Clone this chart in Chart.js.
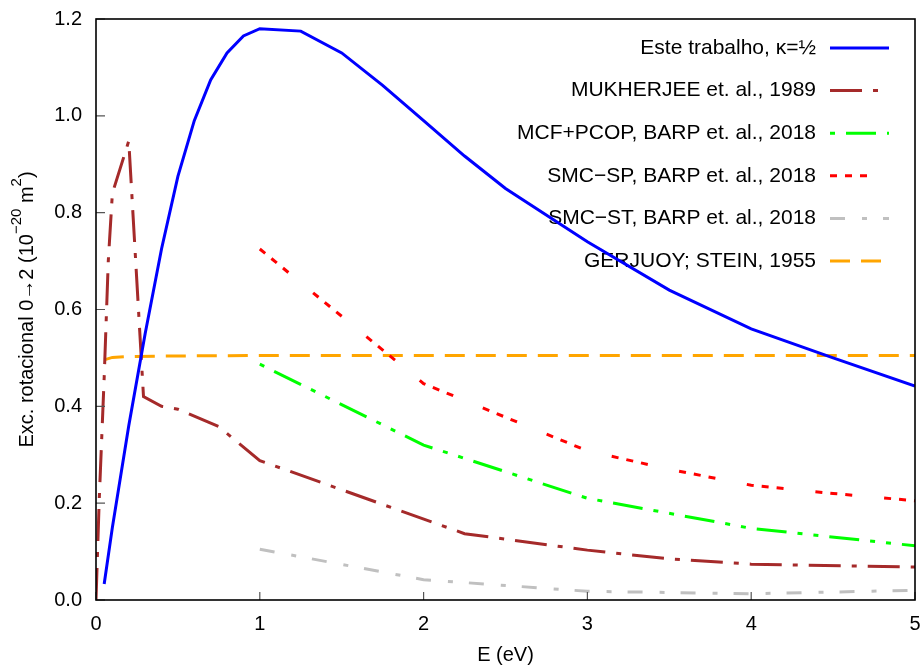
<!DOCTYPE html>
<html>
<head>
<meta charset="utf-8">
<script src="https://cdn.jsdelivr.net/npm/chart.js@4.4.1/dist/chart.umd.min.js"></script>
<style>
  html, body { margin: 0; padding: 0; background: #fff; }
  #wrap { width: 922px; height: 667px; }
</style>
</head>
<body>
<div id="wrap"><canvas id="cs"></canvas></div>
<script>
// series (E in eV, cross section in 1e-20 m^2)
const labels = ['Este trabalho, κ=½', 'MUKHERJEE et. al., 1989', 'MCF+PCOP, BARP et. al., 2018',
                'SMC\u2212SP, BARP et. al., 2018', 'SMC\u2212ST, BARP et. al., 2018', 'GERJUOY; STEIN, 1955'];

const eTrab = [0.05, 0.1, 0.2, 0.3, 0.4, 0.5, 0.6, 0.7, 0.8, 0.9, 1.0, 1.25, 1.5, 1.75, 2.0, 2.25, 2.5, 3.0, 3.5, 4.0, 4.5, 5.0];
const sTrab = [0.033, 0.15, 0.36, 0.55, 0.725, 0.875, 0.99, 1.074, 1.13, 1.165, 1.18, 1.175, 1.13, 1.063, 0.99, 0.917, 0.85, 0.74, 0.64, 0.56, 0.5, 0.442];

const eMuk = [0.0, 0.02, 0.05, 0.075, 0.1, 0.2, 0.29, 0.4, 0.5, 0.75, 1.0, 2.25, 3.0, 3.5, 4.0, 5.0];
const sMuk = [0.0, 0.21, 0.46, 0.7, 0.84, 0.948, 0.42, 0.40, 0.394, 0.358, 0.288, 0.137, 0.103, 0.085, 0.074, 0.068];

const eMcf = [1.0, 2.0, 3.0, 4.0, 5.0];
const sMcf = [0.487, 0.32, 0.21, 0.148, 0.112];

const eSp = [1.0, 2.0, 3.0, 3.5, 4.0, 4.5, 5.0];
const sSp = [0.725, 0.447, 0.308, 0.27, 0.237, 0.22, 0.205];

const eSt = [1.0, 2.0, 3.0, 4.0, 5.0];
const sSt = [0.105, 0.042, 0.018, 0.013, 0.02];

const eGer = [0.05, 0.1, 0.2, 0.5, 1.0, 2.0, 3.0, 4.0, 5.0];
const sGer = [0.496, 0.501, 0.503, 0.504, 0.505, 0.505, 0.505, 0.505, 0.505];

const xTicks = [0, 1, 2, 3, 4, 5];
const yTicks = [0.0, 0.2, 0.4, 0.6, 0.8, 1.0, 1.2];

// y title pieces: [text, superscript?]
const yTitle = [['Exc. rotacional 0\u21922 (10', false], ['\u221220', true], [' m', false], ['2', true], [')', false]];

function pts(xs, ys) { return xs.map((x, i) => ({x: x, y: ys[i]})); }

function ds(i, xs, ys, color, dash) {
  return {
    label: labels[i], data: pts(xs, ys), borderColor: color, backgroundColor: color,
    borderWidth: 3, borderDash: dash, pointRadius: 0, tension: 0, fill: false
  };
}

const FONT = '"Liberation Sans", Arial, sans-serif';

// gnuplot-like key: right aligned text, sample line on the right
const keyPlugin = {
  id: 'key',
  beforeDatasetsDraw(chart) {
    const ctx = chart.ctx;
    ctx.save();
    ctx.font = '21px ' + FONT;
    ctx.textAlign = 'right';
    ctx.textBaseline = 'middle';
    chart.data.datasets.forEach((d, i) => {
      const y = 48 + i * 42.6;
      ctx.fillStyle = '#000';
      ctx.fillText(d.label, 816, y);
      ctx.strokeStyle = d.borderColor;
      ctx.lineWidth = d.borderWidth;
      ctx.setLineDash(d.borderDash || []);
      ctx.beginPath();
      ctx.moveTo(830, y);
      ctx.lineTo(889, y);
      ctx.stroke();
    });
    ctx.restore();
  }
};

// rotated y title with real superscripts
const yTitlePlugin = {
  id: 'ytitle',
  afterDraw(chart) {
    const ctx = chart.ctx;
    const a = chart.chartArea;
    ctx.save();
    const big = '20px ' + FONT, small = '15px ' + FONT;
    let total = 0;
    yTitle.forEach(p => { ctx.font = p[1] ? small : big; total += ctx.measureText(p[0]).width; });
    ctx.translate(33, (a.top + a.bottom) / 2);
    ctx.rotate(-Math.PI / 2);
    ctx.fillStyle = '#000';
    ctx.textBaseline = 'alphabetic';
    ctx.textAlign = 'left';
    let x = -total / 2;
    yTitle.forEach(p => {
      ctx.font = p[1] ? small : big;
      ctx.fillText(p[0], x, p[1] ? -12 : 0);
      x += ctx.measureText(p[0]).width;
    });
    ctx.restore();
  }
};

// frame and inward ticks
const framePlugin = {
  id: 'frame',
  afterDatasetsDraw(chart) {
    const {ctx, chartArea: a, scales} = chart;
    ctx.save();
    ctx.setLineDash([]);
    ctx.strokeStyle = '#555';
    ctx.lineWidth = 1.2;
    ctx.beginPath();
    scales.y.ticks.forEach(t => {
      const py = scales.y.getPixelForValue(t.value);
      ctx.moveTo(a.left, py); ctx.lineTo(a.left + 9, py);
    });
    scales.x.ticks.forEach(t => {
      const px = scales.x.getPixelForValue(t.value);
      ctx.moveTo(px, a.bottom); ctx.lineTo(px, a.bottom - 8);
    });
    ctx.stroke();
    ctx.strokeStyle = '#000';
    ctx.lineWidth = 1.6;
    ctx.strokeRect(a.left, a.top, a.right - a.left, a.bottom - a.top);
    ctx.restore();
  }
};

new Chart(document.getElementById('cs'), {
  type: 'line',
  data: {
    datasets: [
      ds(0, eTrab, sTrab, '#0000ff', []),
      ds(1, eMuk, sMuk, '#a52a2a', [32, 11, 5, 11]),
      ds(2, eMcf, sMcf, '#00ff00', [5, 11, 30, 11, 5, 11]),
      ds(3, eSp, sSp, '#ff0000', [7, 8, 7, 8, 7, 32]),
      ds(4, eSt, sSt, '#c0c0c0', [15, 17, 5, 16]),
      ds(5, eGer, sGer, '#ffa500', [20, 11])
    ]
  },
  options: {
    responsive: true,
    maintainAspectRatio: false,
    animation: false,
    layout: {padding: {left: 0, top: 19, right: 7, bottom: 0}},
    plugins: {legend: {display: false}, tooltip: {enabled: false}},
    scales: {
      x: {
        type: 'linear', min: 0, max: 5,
        afterFit: s => { s.height = 67; s.paddingLeft = 0; s.paddingRight = 0; },
        afterBuildTicks: s => { s.ticks = xTicks.map(v => ({value: v})); },
        grid: {display: false, drawTicks: false},
        border: {display: false},
        ticks: {color: '#000', font: {family: FONT, size: 20}, padding: 12, maxRotation: 0,
                callback: v => String(v)},
        title: {display: true, text: 'E (eV)', color: '#000', font: {family: FONT, size: 20},
                padding: {top: 0, bottom: 0}}
      },
      y: {
        min: 0, max: 1.2,
        afterFit: s => { s.width = 96; s.paddingTop = 0; s.paddingBottom = 0; },
        afterBuildTicks: s => { s.ticks = yTicks.map(v => ({value: v})); },
        grid: {display: false, drawTicks: false},
        border: {display: false},
        ticks: {color: '#000', font: {family: FONT, size: 20}, padding: 14,
                callback: v => v.toFixed(1)}
      }
    }
  },
  plugins: [keyPlugin, framePlugin, yTitlePlugin]
});
</script>
</body>
</html>
